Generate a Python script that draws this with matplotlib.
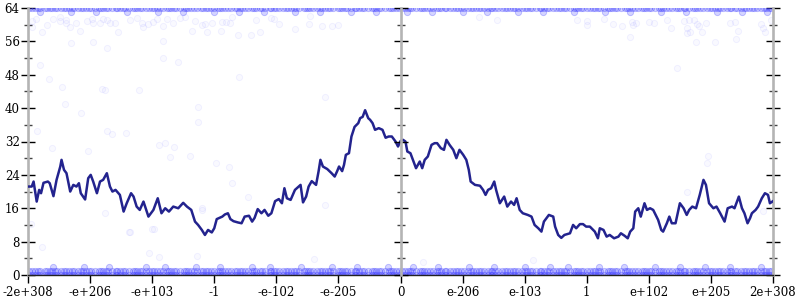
import matplotlib
matplotlib.use("Agg")
import matplotlib.pyplot as plt
from matplotlib.ticker import MultipleLocator

# x is in "float order" units: 0..12, one unit per labelled tick
tick_labels = ['-2e+308', '-e+206', '-e+103', '-1', '-e-102', '-e-205', '0',
               'e-206', 'e-103', '1', 'e+102', 'e+205', '2e+308']

# running mean
line_x = [0.00, 0.06, 0.09, 0.14, 0.18, 0.21, 0.25, 0.32, 0.35, 0.41, 0.46, 0.52, 0.54, 0.58,
          0.62, 0.68, 0.73, 0.78, 0.82, 0.85, 0.92, 0.97, 1.01, 1.05, 1.11, 1.16, 1.21, 1.27,
          1.32, 1.36, 1.41, 1.48, 1.54, 1.59, 1.66, 1.70, 1.75, 1.80, 1.86, 1.94, 2.02, 2.09,
          2.15, 2.21, 2.27, 2.34, 2.42, 2.50, 2.56, 2.63, 2.69, 2.74, 2.80, 2.85, 2.90, 2.96,
          3.00, 3.04, 3.13, 3.17, 3.22, 3.26, 3.31, 3.38, 3.44, 3.49, 3.56, 3.61, 3.65, 3.70,
          3.76, 3.81, 3.87, 3.92, 3.98, 4.04, 4.09, 4.13, 4.17, 4.23, 4.30, 4.33, 4.39, 4.43,
          4.48, 4.52, 4.57, 4.64, 4.68, 4.71, 4.75, 4.82, 4.89, 4.94, 4.98, 5.01, 5.06, 5.09,
          5.12, 5.17, 5.21, 5.26, 5.32, 5.35, 5.39, 5.43, 5.48, 5.51, 5.55, 5.59, 5.65, 5.71,
          5.76, 5.81, 5.86, 5.92, 5.96, 6.00, 6.04, 6.08, 6.11, 6.16, 6.22, 6.25, 6.31, 6.35,
          6.39, 6.44, 6.50, 6.55, 6.59, 6.65, 6.70, 6.74, 6.79, 6.85, 6.90, 6.95, 7.01, 7.06,
          7.10, 7.13, 7.20, 7.28, 7.33, 7.37, 7.41, 7.46, 7.51, 7.54, 7.60, 7.67, 7.72, 7.78,
          7.83, 7.87, 7.92, 7.97, 8.05, 8.11, 8.16, 8.22, 8.27, 8.31, 8.35, 8.39, 8.46, 8.49,
          8.54, 8.59, 8.64, 8.73, 8.78, 8.83, 8.89, 8.94, 8.99, 9.05, 9.13, 9.18, 9.21, 9.27,
          9.32, 9.37, 9.44, 9.51, 9.55, 9.61, 9.66, 9.70, 9.75, 9.78, 9.83, 9.87, 9.93, 9.97,
          10.02, 10.07, 10.11, 10.15, 10.20, 10.23, 10.29, 10.33, 10.37, 10.43, 10.50, 10.56,
          10.61, 10.65, 10.70, 10.76, 10.82, 10.88, 10.92, 10.97, 11.04, 11.09, 11.15, 11.22,
          11.27, 11.34, 11.38, 11.42, 11.45, 11.50, 11.54, 11.59, 11.63, 11.66, 11.72, 11.76,
          11.82, 11.87, 11.92, 11.95, 12.00]
line_y = [21.2, 21.2, 22.4, 17.6, 20.4, 19.6, 22.1, 22.4, 22.0, 18.9, 22.8, 26.0, 27.6, 25.2,
          24.4, 20.0, 21.6, 21.2, 22.0, 19.6, 18.1, 23.2, 24.0, 22.4, 19.6, 22.4, 22.8, 24.4,
          21.2, 20.0, 20.4, 19.2, 15.2, 17.2, 19.6, 18.8, 16.4, 15.6, 17.6, 14.0, 15.6, 18.4,
          14.8, 16.0, 15.2, 16.4, 16.0, 17.3, 16.4, 15.6, 12.8, 12.0, 10.8, 9.6, 10.8, 10.2,
          11.2, 13.4, 14.0, 14.5, 14.8, 13.4, 12.9, 12.6, 12.4, 14.0, 14.2, 12.8, 13.7, 15.8,
          14.8, 15.6, 14.2, 14.8, 17.7, 18.2, 17.2, 20.8, 18.4, 18.0, 20.4, 20.8, 21.6, 17.4,
          18.8, 21.2, 22.5, 21.6, 24.8, 27.6, 26.0, 25.4, 24.4, 23.6, 24.9, 26.0, 24.9, 26.4,
          28.8, 29.2, 33.2, 35.5, 36.4, 37.6, 37.9, 39.5, 37.6, 37.2, 36.4, 34.8, 35.2, 34.8,
          32.9, 33.2, 33.2, 32.0, 30.8, 32.1, 32.4, 32.0, 29.6, 29.2, 26.8, 25.6, 27.2, 25.6,
          27.6, 28.4, 31.2, 31.6, 31.6, 30.4, 30.0, 32.4, 31.2, 30.0, 28.0, 30.0, 28.8, 27.6,
          25.2, 22.4, 21.6, 21.4, 20.4, 19.2, 20.4, 20.8, 22.4, 20.4, 17.2, 18.8, 16.4, 17.6,
          16.8, 18.4, 15.6, 14.8, 14.4, 14.0, 12.0, 11.2, 10.4, 12.8, 13.6, 14.4, 14.0, 11.6,
          9.6, 8.9, 9.6, 10.0, 12.0, 11.2, 12.2, 12.2, 11.6, 11.6, 10.4, 8.8, 11.2, 10.8,
          9.2, 9.6, 8.8, 9.2, 10.0, 9.4, 8.8, 10.4, 11.2, 15.2, 16.0, 14.0, 17.2, 15.6,
          16.0, 15.6, 14.4, 13.2, 10.8, 10.4, 12.4, 14.0, 12.4, 12.4, 17.2, 16.0,
          14.4, 15.6, 16.4, 16.0, 19.2, 22.8, 21.6, 17.2, 16.0, 16.4, 14.8, 12.8,
          16.0, 16.4, 16.0, 17.6, 18.8, 16.0, 14.8, 12.4, 13.6, 14.8, 15.6, 16.4,
          18.4, 19.6, 19.2, 17.2, 17.7]

# samples: dense rows at the bottom and the top
band_a = [0.02, 0.11, 0.19, 0.31, 0.38, 0.47, 0.58, 0.66, 0.74, 0.85, 0.93, 1.02, 1.14, 1.21,
          1.29, 1.41, 1.48, 1.57, 1.69, 1.76, 1.84, 1.95, 2.03, 2.12, 2.24, 2.31, 2.39, 2.51,
          2.58, 2.67, 2.79, 2.86, 2.94, 3.06, 3.13, 3.22, 3.34, 3.41, 3.49, 3.61, 3.68, 3.77,
          3.89, 3.96, 4.04, 4.16, 4.23, 4.32, 4.44, 4.51, 4.59, 4.71, 4.78, 4.87, 4.99, 5.06,
          5.14, 5.26, 5.33, 5.42, 5.54, 5.61, 5.69, 5.81, 5.88, 5.97, 6.03, 6.12, 6.19, 6.31,
          6.38, 6.47, 6.58, 6.66, 6.74, 6.85, 6.93, 7.02, 7.14, 7.21, 7.29, 7.41, 7.48, 7.57,
          7.69, 7.76, 7.84, 7.95, 8.03, 8.12, 8.24, 8.31, 8.39, 8.51, 8.58, 8.67, 8.79, 8.86,
          8.94, 9.06, 9.13, 9.22, 9.34, 9.41, 9.49, 9.61, 9.68, 9.77, 9.89, 9.96, 10.04, 10.16,
          10.23, 10.32, 10.44, 10.51, 10.59, 10.71, 10.78, 10.87, 10.99, 11.06, 11.14, 11.26,
          11.33, 11.42, 11.54, 11.61, 11.69, 11.81, 11.88, 11.97]
band_b = [0.06, 0.16, 0.27, 0.35, 0.43, 0.53, 0.62, 0.71, 0.80, 0.89, 0.98, 1.08, 1.17, 1.25,
          1.35, 1.44, 1.53, 1.62, 1.72, 1.80, 1.90, 1.99, 2.08, 2.17, 2.27, 2.35, 2.45, 2.54,
          2.63, 2.72, 2.82, 2.90, 3.00, 3.09, 3.18, 3.27, 3.37, 3.45, 3.55, 3.64, 3.73, 3.82,
          3.92, 4.00, 4.10, 4.19, 4.28, 4.37, 4.47, 4.55, 4.65, 4.74, 4.83, 4.92, 5.02, 5.10,
          5.20, 5.29, 5.38, 5.47, 5.57, 5.65, 5.75, 5.84, 5.93, 6.07, 6.16, 6.25, 6.35, 6.43,
          6.53, 6.62, 6.71, 6.80, 6.90, 6.98, 7.08, 7.17, 7.26, 7.35, 7.45, 7.53, 7.63, 7.72,
          7.81, 7.90, 8.00, 8.08, 8.18, 8.27, 8.36, 8.45, 8.55, 8.63, 8.73, 8.82, 8.91, 9.00,
          9.10, 9.18, 9.28, 9.37, 9.46, 9.55, 9.65, 9.73, 9.83, 9.92, 10.01, 10.10, 10.20, 10.28,
          10.38, 10.47, 10.56, 10.65, 10.75, 10.83, 10.93, 11.02, 11.11, 11.20, 11.30, 11.38,
          11.48, 11.57, 11.66, 11.75, 11.85, 11.93]
sparse_a = [0.4, 0.9, 1.3, 1.9, 2.2, 2.7, 3.1, 3.6, 3.9, 4.4, 4.9, 5.3, 5.8, 6.2, 6.6, 7.1,
            7.5, 8.0, 8.4, 8.7, 9.2, 9.6, 10.1, 10.5, 10.9, 11.3, 11.8]
sparse_b = [0.2, 0.7, 1.1, 1.6, 2.1, 2.5, 3.0, 3.4, 3.8, 4.3, 4.7, 5.2, 5.6, 6.1, 6.5, 7.0,
            7.4, 7.9, 8.3, 8.8, 9.3, 9.7, 10.2, 10.6, 11.1, 11.5, 11.9]

# loose samples in between
loose_x = [0.06, 0.13, 0.06, 0.22, 0.30, 0.41, 0.52, 0.51, 0.62, 0.62, 0.68, 0.78, 0.84, 0.95,
           1.03, 1.04, 1.16, 1.21, 1.27, 1.32, 1.40, 1.45, 1.64, 1.75, 1.83, 1.86, 1.94, 2.02,
           2.07, 2.18, 2.24, 2.34, 2.45, 2.53, 2.64, 2.69, 0.70, 0.20, 0.34, 0.54, 0.60, 0.86,
           1.19, 1.24, 1.28, 1.04, 1.79, 2.17, 2.18, 2.41, 2.74, 2.74, 1.27, 1.36, 1.58, 0.15,
           2.80, 2.85, 2.89, 2.96, 3.11, 3.12, 3.19, 3.26, 3.28, 3.39, 3.59, 3.68, 3.73, 3.91,
           3.97, 4.04, 4.30, 4.52, 4.55, 4.74, 4.90, 5.00, 3.40, 4.78, 3.03, 3.24, 3.28, 3.54,
           2.81, 4.78, 4.60, 7.27, 7.55, 8.84, 9.01, 9.01, 9.28, 9.43, 9.57, 9.69, 9.73, 9.80,
           9.74, 10.01, 10.08, 10.30, 10.36, 10.62, 10.56, 10.62, 10.64, 10.67, 10.73, 10.77,
           10.80, 10.85, 10.92, 10.76, 11.07, 11.30, 11.39, 11.43, 11.40, 11.81, 11.84, 11.87,
           11.96, 10.46, 10.96, 10.93, 10.61, 11.84, 8.14, 6.37, 0.22, 1.64, 1.99, 2.61, 1.95,
           2.11, 2.72, 0.38, 0.96, 2.11, 2.20, 2.35, 2.29, 1.24, 0.05, 1.63, 2.03, 2.80]
loose_y = [61.0, 61.3, 59.5, 58.3, 59.9, 61.3, 61.8, 61.0, 61.1, 60.5, 59.5, 60.5, 58.5, 61.0,
           61.3, 60.3, 60.5, 61.3, 61.1, 60.3, 60.5, 58.3, 61.1, 61.5, 60.5, 59.5, 60.1, 60.7,
           61.3, 59.7, 61.3, 60.3, 61.5, 61.8, 58.5, 61.0, 55.5, 50.3, 46.9, 45.1, 41.1, 38.8,
           44.5, 44.3, 54.3, 55.9, 44.3, 56.2, 51.9, 51.1, 40.2, 36.7, 34.6, 33.8, 34.1, 34.5,
           59.9, 60.1, 58.3, 60.5, 58.5, 60.7, 60.7, 60.5, 61.9, 57.5, 57.5, 61.1, 58.3, 61.5,
           61.3, 60.1, 58.9, 60.1, 62.1, 59.7, 59.7, 59.9, 47.4, 42.7, 26.8, 26.0, 22.0, 18.6,
           15.7, 16.8, 3.8, 61.8, 61.1, 61.1, 61.0, 60.0, 61.3, 60.1, 59.7, 57.1, 60.7, 60.5,
           59.9, 60.7, 60.5, 61.1, 59.1, 58.1, 61.0, 59.1, 61.1, 58.3, 61.1, 60.1,
           59.7, 58.3, 60.3, 55.8, 55.8, 60.3, 60.7, 58.5, 56.5, 60.1, 59.1, 58.3,
           61.1, 49.5, 28.5, 26.9, 20.0, 15.4, 3.6, 3.2, 6.6, 10.4, 11.0, 28.5, 5.2,
           4.3, 4.6, 30.4, 29.8, 31.2, 31.7, 30.8, 28.2, 14.8, 12.2, 10.4, 11.0, 16.0]

rows = [(0, band_a), (0, band_b), (1, band_b), (1, band_a), (2, sparse_a),
        (64, band_a), (64, band_b), (63, sparse_b)]

fig = plt.figure(figsize=(8, 3), dpi=100)
ax = fig.add_axes([28 / 800, 25 / 300, 745 / 800, 267 / 300])

dot = dict(s=20, marker='o', linewidths=0.7, zorder=2)
for yv, xs in rows:
    ax.scatter(xs, [yv] * len(xs), facecolor=(0.25, 0.25, 1, 0.22),
               edgecolor=(0.25, 0.25, 1, 0.3), **dot)
ax.scatter(loose_x, loose_y, facecolor=(0.3, 0.3, 1, 0.03),
           edgecolor=(0.3, 0.3, 1, 0.07), **dot)

ax.plot(line_x, line_y, color='#23238e', lw=1.8, zorder=3, solid_joinstyle='round')

ax.set_xlim(0, 12)
ax.set_ylim(0, 64)
ax.set_xticks(range(13))
ax.set_xticklabels(tick_labels, family='DejaVu Serif', fontsize=8.5)
ax.yaxis.set_major_locator(MultipleLocator(8))
ax.yaxis.set_minor_locator(MultipleLocator(4))
ax.tick_params(axis='y', labelsize=8.5, labelfontfamily='DejaVu Serif')
ax.yaxis.set_ticks_position('both')
ax.tick_params(axis='y', which='major', direction='inout', length=10, width=1, color='k', pad=1)
ax.tick_params(axis='y', which='minor', direction='inout', length=6, width=1, color='#444444')
ax.tick_params(axis='x', direction='out', length=6, width=1, color='k', pad=2)

for s in ('left', 'right'):
    ax.spines[s].set_color('#b4b4b4')
    ax.spines[s].set_linewidth(1.9)
ax.spines['top'].set_visible(False)
ax.spines['bottom'].set_color('#222222')
ax.spines['bottom'].set_linewidth(1)

# middle axis at x = 0
mid = fig.add_axes(ax.get_position(), sharey=ax)
mid.patch.set_visible(False)
mid.set_xlim(0, 12)
mid.set_xticks([])
for s in ('top', 'bottom', 'right'):
    mid.spines[s].set_visible(False)
mid.spines['left'].set_position(('data', 6))
mid.spines['left'].set_color('#b4b4b4')
mid.spines['left'].set_linewidth(1.9)
mid.tick_params(axis='y', which='both', labelleft=False, labelright=False, right=False)
mid.tick_params(axis='y', which='major', direction='inout', length=10, width=1, color='k')
mid.tick_params(axis='y', which='minor', direction='inout', length=6, width=1, color='#444444')

fig.savefig('out.png', dpi=100)
